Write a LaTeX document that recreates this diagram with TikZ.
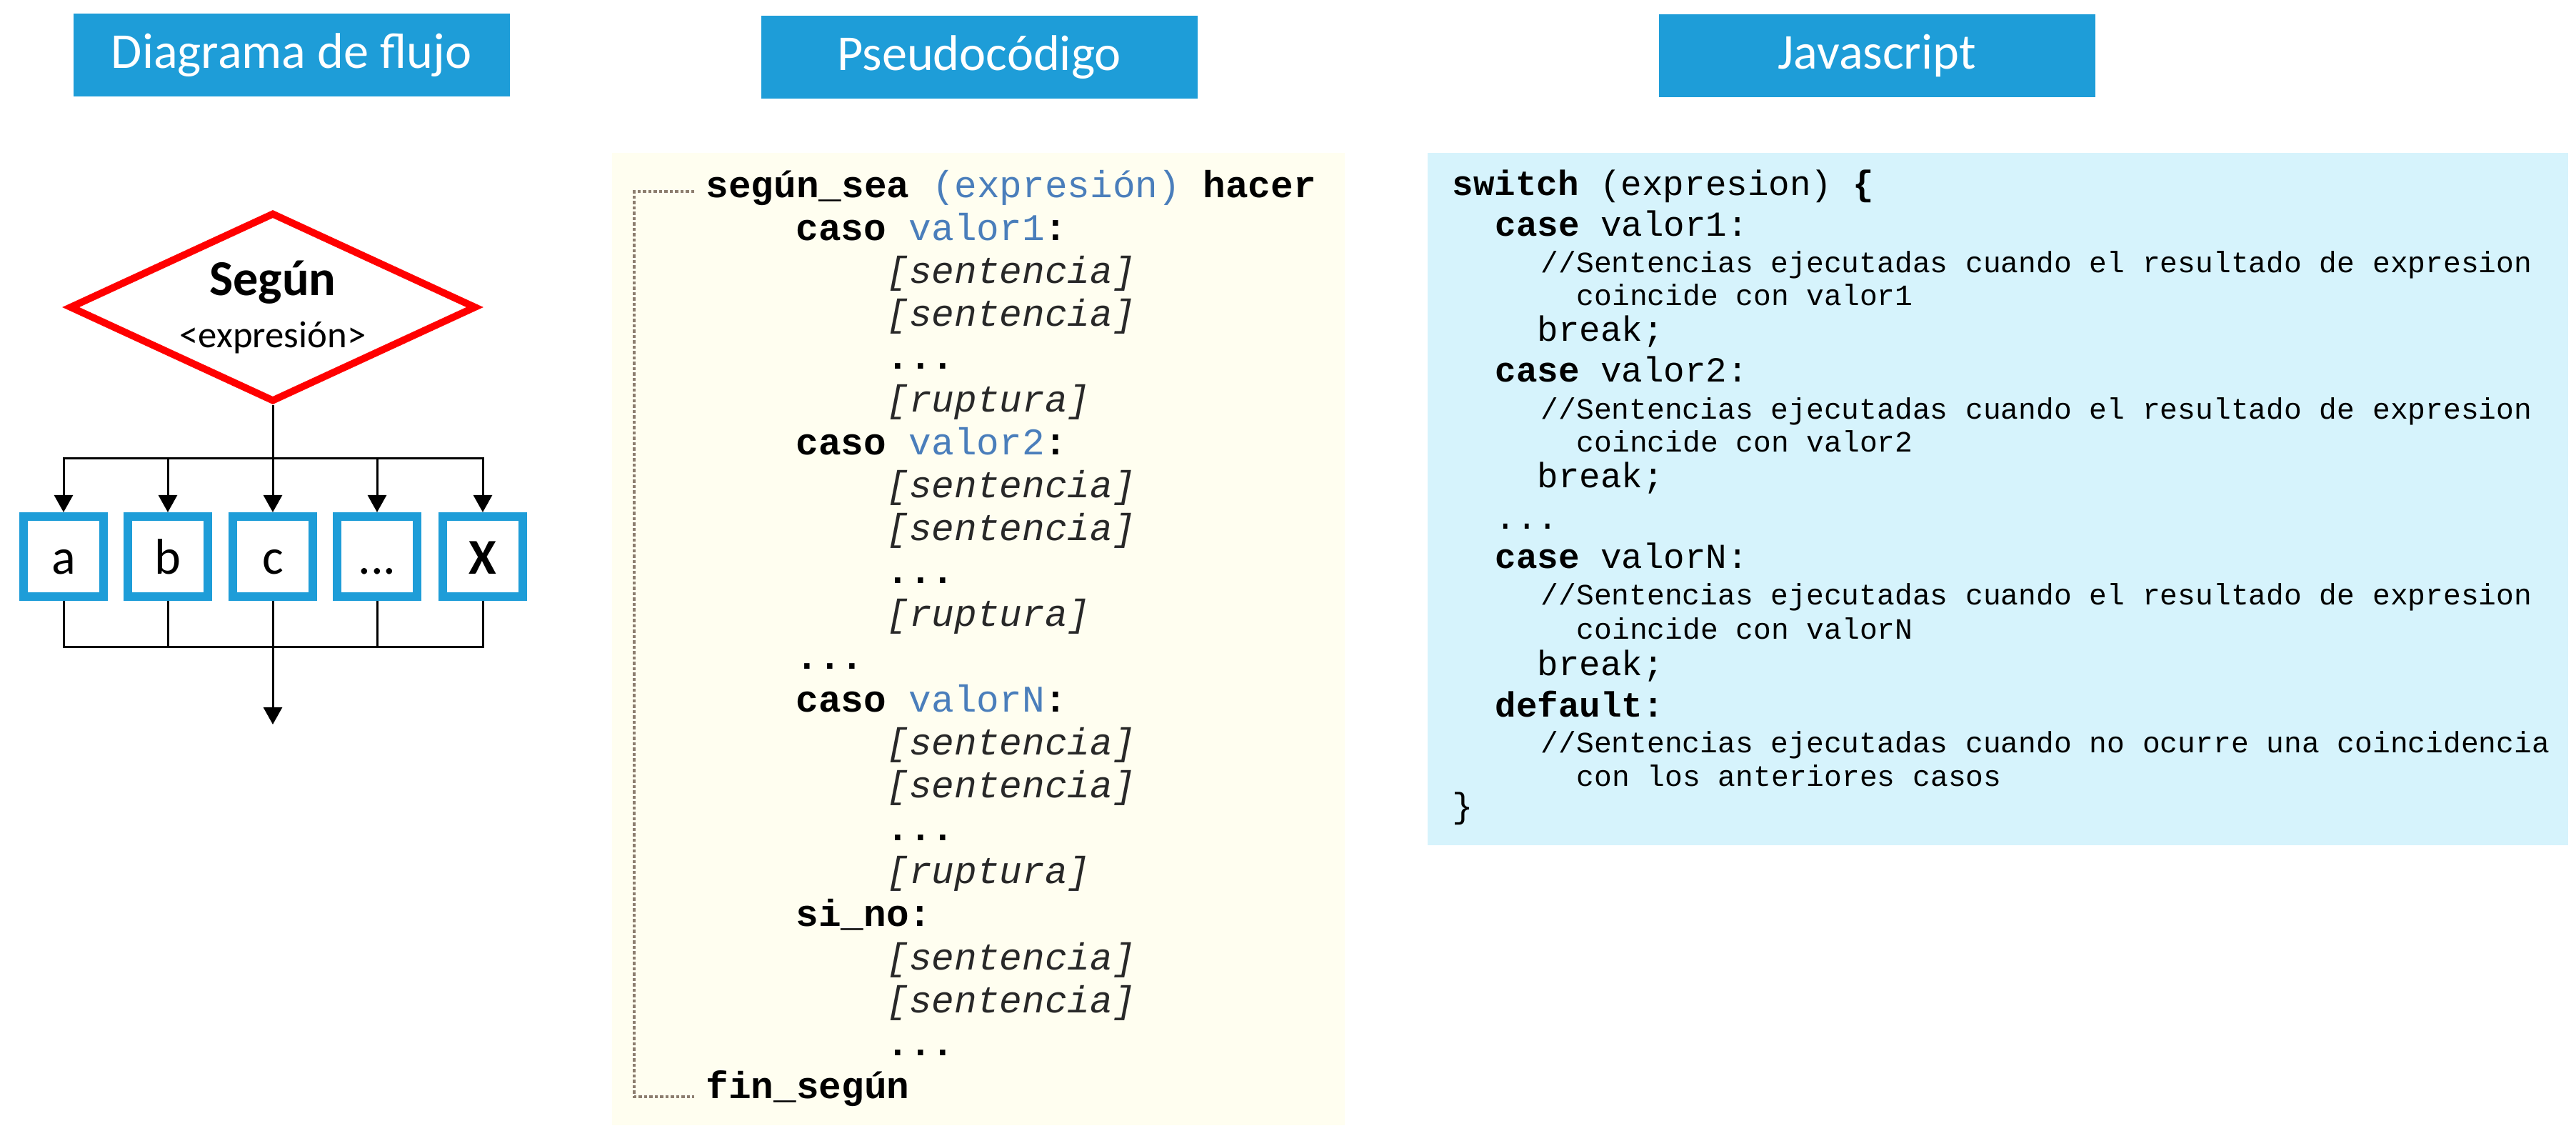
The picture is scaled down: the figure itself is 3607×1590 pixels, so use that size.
\documentclass[tikz,border=0pt]{standalone}
\usepackage{fontspec}
\setmainfont{Carlito}
\newfontfamily\mono[WordSpace={1,0,0}]{Liberation Mono}
\usetikzlibrary{shapes.geometric,arrows.meta,positioning}

\definecolor{azul}{RGB}{30,157,216}
\definecolor{rojo}{RGB}{255,0,0}
\definecolor{crema}{RGB}{255,254,240}
\definecolor{celeste}{RGB}{214,243,252}
\definecolor{azultexto}{RGB}{74,126,187}
\definecolor{gris}{RGB}{40,40,40}
\definecolor{punteado}{RGB}{140,125,110}

\begin{document}
\begin{tikzpicture}[x=0.1mm,y=-0.1mm]
	\tikzstyle{every node}=[font=\fontsize{20}{24}\selectfont]
	\tikzstyle{titulo}=[fill=azul, text=white, minimum width=61.1mm, minimum height=11.6mm, inner sep=0pt]
	\tikzstyle{decision}=[diamond, draw=rojo, line width=1mm, fill=white, aspect=2.15,
	minimum width=57mm, minimum height=26.5mm, inner sep=0pt, align=center,
	font=\fontsize{20}{20.5}\selectfont]
	\tikzstyle{caja}=[draw=azul, line width=1.2mm, fill=white, minimum width=11.2mm, minimum height=11.2mm,
	inner sep=0pt, text height=13.7pt, text depth=0pt]
	\tikzstyle{linea}=[line width=0.3mm]
	\tikzstyle{flecha}=[linea, -{Triangle[width=2.6mm,length=2.4mm]}]
	\tikzstyle{pseudo}=[anchor=base west, inner sep=0pt, font=\mono\fontsize{15}{18}\selectfont]
	\tikzstyle{js}=[anchor=base west, inner sep=0pt, font=\mono\fontsize{14}{17}\selectfont]
	\tikzstyle{jscom}=[anchor=base west, inner sep=0pt, font=\mono\fontsize{11.75}{14}\selectfont]
	\tikzstyle{corchete}=[draw=punteado, line width=0.4mm, dash pattern=on 0.45mm off 0.3mm]

	\useasboundingbox (0,0) rectangle (3607,1590);

	% titulos de las tres columnas
	\node[titulo] (tflujo) at (408,77) {Diagrama de flujo};
	\node[titulo] (tpseudo) at (1371,80) {Pseudocódigo};
	\node[titulo] (tjs) at (2628,78) {Javascript};

	% diagrama de flujo
	\node[decision] (segun) at (382,430) {{\bfseries Según}\\{\fontsize{15}{20.5}\selectfont <expresión>}};

	\node[caja] (a) at (89,779) {a};
	\node[caja] (b) at (235,779) {b};
	\node[caja] (c) at (382,779) {c};
	\node[caja] (d) at (528,779) {...};
	\node[caja] (x) at (676,779) {\bfseries X};

	\coordinate (reparto) at (382,642);
	\coordinate (union) at (382,906);
	\coordinate (salida) at (382,1014);

	\draw[linea] (segun.south) -- (reparto);
	\foreach \n in {a,b,c,d,x}
		\draw[flecha] (reparto) -| (\n.north);
	\foreach \n in {a,b,d,x}
		\draw[linea] (\n.south) |- (union);
	\draw[flecha] (c.south) -- (salida);

	% pseudocodigo
	\fill[crema] (857,214) rectangle (1883,1575);
	\foreach \i/\x/\t in {
		0/988/{\textbf{según\_sea} \textcolor{azultexto}{(expresión)} \textbf{hacer}},
		1/1114/{\textbf{caso} \textcolor{azultexto}{valor1}\textbf{:}},
		2/1241/{\textcolor{gris}{\itshape [sentencia]}},
		3/1241/{\textcolor{gris}{\itshape [sentencia]}},
		4/1241/{\textbf{...}},
		5/1241/{\textcolor{gris}{\itshape [ruptura]}},
		6/1114/{\textbf{caso} \textcolor{azultexto}{valor2}\textbf{:}},
		7/1241/{\textcolor{gris}{\itshape [sentencia]}},
		8/1241/{\textcolor{gris}{\itshape [sentencia]}},
		9/1241/{\textbf{...}},
		10/1241/{\textcolor{gris}{\itshape [ruptura]}},
		11/1114/{\textbf{...}},
		12/1114/{\textbf{caso} \textcolor{azultexto}{valorN}\textbf{:}},
		13/1241/{\textcolor{gris}{\itshape [sentencia]}},
		14/1241/{\textcolor{gris}{\itshape [sentencia]}},
		15/1241/{\textbf{...}},
		16/1241/{\textcolor{gris}{\itshape [ruptura]}},
		17/1114/{\textbf{si\_no:}},
		18/1241/{\textcolor{gris}{\itshape [sentencia]}},
		19/1241/{\textcolor{gris}{\itshape [sentencia]}},
		20/1241/{\textbf{...}},
		21/988/{\textbf{fin\_según}}}
		\node[pseudo] (s\i) at (\x,{277+60*\i}) {\t};

	\draw[corchete] ([xshift=-1.6mm,yshift=0.9mm]s0.base west) -- ++(-8.4mm,0) |- ([xshift=-1.6mm,yshift=0.2mm]s21.base west);

	% javascript
	\fill[celeste] (1999,214) rectangle (3596,1183);
	\node[js] (j0) at (2033,274) {\textbf{switch} (expresion) \textbf{\{}};
	\node[js] (j1) at (2093,331) {\textbf{case} valor1:};
	\node[jscom] (j2) at (2157,382) {//Sentencias ejecutadas cuando el resultado de expresion};
	\node[jscom] (j3) at (2207,428) {coincide con valor1};
	\node[js] (j4) at (2152,478) {break;};
	\node[js] (j5) at (2093,535) {\textbf{case} valor2:};
	\node[jscom] (j6) at (2157,587) {//Sentencias ejecutadas cuando el resultado de expresion};
	\node[jscom] (j7) at (2207,633) {coincide con valor2};
	\node[js] (j8) at (2152,683) {break;};
	\node[js] (j9) at (2093,741) {...};
	\node[js] (j10) at (2093,796) {\textbf{case} valorN:};
	\node[jscom] (j11) at (2157,847) {//Sentencias ejecutadas cuando el resultado de expresion};
	\node[jscom] (j12) at (2207,895) {coincide con valorN};
	\node[js] (j13) at (2152,946) {break;};
	\node[js] (j14) at (2093,1004) {\textbf{default:}};
	\node[jscom] (j15) at (2157,1054) {//Sentencias ejecutadas cuando no ocurre una coincidencia};
	\node[jscom] (j16) at (2207,1101) {con los anteriores casos};
	\node[js] (j17) at (2033,1145) {\}}; % llave final
\end{tikzpicture}
\end{document}
